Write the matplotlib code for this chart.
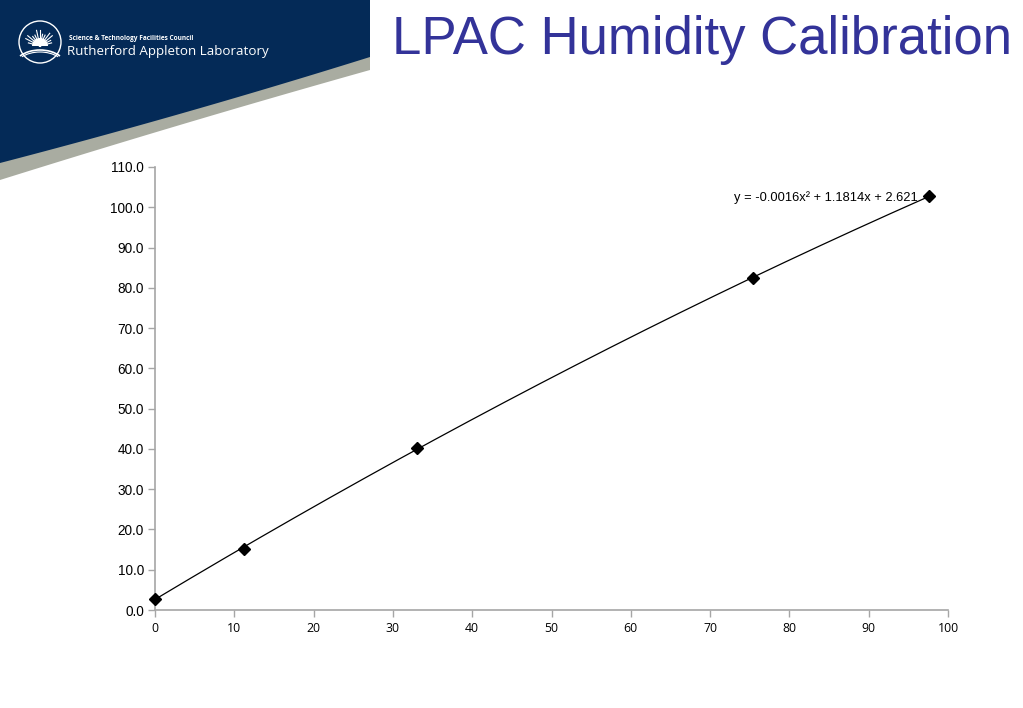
import numpy as np
import matplotlib
matplotlib.use("Agg")
import matplotlib.pyplot as plt
from matplotlib.patches import Polygon, Circle, Wedge, Arc

# ---- data ----
x_vals = [0.0, 11.2, 33.0, 75.4, 97.6]
y_vals = [2.7, 15.2, 40.2, 82.5, 102.8]
fit_coeffs = [-0.0016, 1.1814, 2.621]   # quadratic trendline
x_ticks = [0, 10, 20, 30, 40, 50, 60, 70, 80, 90, 100]
y_ticks = [0, 10, 20, 30, 40, 50, 60, 70, 80, 90, 100, 110]
title = "LPAC Humidity Calibration"
equation = "y = -0.0016x² + 1.1814x + 2.621"

W, H = 1023, 708
fig = plt.figure(figsize=(W / 100, H / 100), dpi=100)
fig.patch.set_facecolor("white")

# ---- slide header background ----
bg = fig.add_axes([0, 0, 1, 1], zorder=0)
bg.set_xlim(0, W)
bg.set_ylim(H, 0)
bg.axis("off")

def quad_curve(p0, p1, p2, n=60):
    xs = np.array([p0[0], p1[0], p2[0]])
    ys = np.array([p0[1], p1[1], p2[1]])
    c = np.polyfit(xs, ys, 2)
    xx = np.linspace(p0[0], p2[0], n)
    return xx, np.polyval(c, xx)

gx, gy = quad_curve((0, 180), (190, 122), (370, 70))
gray_poly = [(0, 0), (370, 0)] + list(zip(gx[::-1], gy[::-1]))
bg.add_patch(Polygon(gray_poly, closed=True, facecolor="#a9aca1", edgecolor="none"))
bx, by = quad_curve((0, 163), (190, 111), (370, 57))
blue_poly = [(0, 0), (370, 0)] + list(zip(bx[::-1], by[::-1]))
bg.add_patch(Polygon(blue_poly, closed=True, facecolor="#042a57", edgecolor="none"))

# logo
cx, cy, r = 40, 42, 21
bg.add_patch(Circle((cx, cy), r, facecolor="none", edgecolor="white", lw=1.0))
for ang in np.linspace(15, 165, 13):
    a = np.deg2rad(ang)
    L = 16 if int(ang) % 2 == 0 else 12
    bg.plot([cx, cx + L * np.cos(a)], [cy + 4, cy + 4 - L * np.sin(a)],
            color="white", lw=0.8)
bg.add_patch(Wedge((cx, cy + 4), 8, 180, 360, facecolor="white", edgecolor="none"))
bg.add_patch(Arc((cx, cy + 28), 56, 40, theta1=215, theta2=325, color="white", lw=1.2))
bg.add_patch(Arc((cx, cy + 30), 56, 40, theta1=220, theta2=320, color="white", lw=0.8))
bg.text(69, 38, "Science & Technology Facilities Council", color="white",
        fontsize=4.7, fontweight="bold", family="Open Sans", va="center", ha="left")
bg.text(67, 52, "Rutherford Appleton Laboratory", color="white",
        fontsize=9.6, family="Open Sans", va="center", ha="left")

# title
bg.text(1012, 40, title, color="#333399", fontsize=38, family="Liberation Sans",
        ha="right", va="center")

# ---- chart ----
ax = fig.add_axes([155 / W, 1 - 610 / H, (948 - 155) / W, (610 - 167) / H], zorder=1)
ax.patch.set_alpha(0)
ax.set_xlim(0, 100)
ax.set_ylim(0, 110)

xx = np.linspace(min(x_vals), max(x_vals), 200)
ax.plot(xx, np.polyval(fit_coeffs, xx), color="black", lw=0.9, zorder=2)
ax.plot(x_vals, y_vals, linestyle="none", marker="D", markersize=6.5,
        color="black", zorder=3, clip_on=False)

ax.set_xticks(x_ticks)
ax.set_yticks(y_ticks)
ax.set_xticklabels([str(t) for t in x_ticks], family="Open Sans", fontsize=8.8)
ax.set_yticklabels([f"{t:.1f}" for t in y_ticks], family="Liberation Sans", fontsize=9.8)
for s in ["top", "right"]:
    ax.spines[s].set_visible(False)
for s in ["left", "bottom"]:
    ax.spines[s].set_color("#a6a6a6")
    ax.spines[s].set_linewidth(1.2)
ax.tick_params(axis="both", direction="out", length=5, color="#a6a6a6", width=1,
               labelcolor="black")
ax.tick_params(axis="y", pad=3)
ax.tick_params(axis="x", pad=4)

ax.text(0.962, 0.93, equation, transform=ax.transAxes, ha="right", va="center",
        family="Liberation Sans", fontsize=9.3)

fig.savefig("out.png", dpi=100)
